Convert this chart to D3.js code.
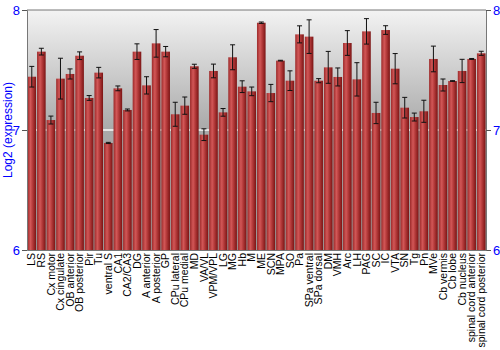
<!DOCTYPE html>
<meta charset="utf-8">
<title>Log2 expression by region</title>
<style type="text/css">
  body {margin:0; background:#fff;}
  text {font-family: "Liberation Sans", Arial, sans-serif;}
</style>
<body>
<script src="https://d3js.org/d3.v7.min.js"></script>
<div id="chart"></div>
<script>
// regions, mean log2 expression and error
var regions = ["LS","RS","Cx motor","Cx cingulate","OB anterior","OB posterior","Pir","Tu","ventral S","CA1",
  "CA2/CA3","DG","A anterior","A posterior","GP","CPu lateral","CPu medial","MD","VA/VL","VPM/VPL",
  "LG","MG","Hb","M","ME","SCN","MPA","SO","Pa","SPa ventral",
  "SPa dorsal","DM","VMH","Arc","LH","PAG","SC","IC","VTA","SN",
  "Tg","Pn","MVe","Cb vermis","Cb lobe","Cb nucleus","spinal cord anterior","spinal cord posterior"];
var values = [7.444,7.653,7.083,7.428,7.467,7.619,7.267,7.478,6.892,7.347,
  7.167,7.653,7.372,7.722,7.653,7.131,7.203,7.531,6.961,7.492,
  7.147,7.606,7.361,7.322,7.894,7.308,7.578,7.411,7.797,7.778,
  7.411,7.522,7.442,7.725,7.422,7.822,7.142,7.833,7.511,7.186,
  7.108,7.156,7.592,7.375,7.408,7.492,7.592,7.639];
var errors = [0.086,0.028,0.033,0.17,0.042,0.032,0.02,0.044,0.005,0.02,
  0.008,0.065,0.072,0.115,0.043,0.1,0.072,0.017,0.049,0.057,
  0.032,0.104,0.049,0.036,0.006,0.072,0.003,0.082,0.071,0.14,
  0.017,0.133,0.075,0.103,0.139,0.106,0.089,0.036,0.126,0.086,
  0.033,0.092,0.107,0.05,0.003,0.097,0.004,0.017];
var yTicks = [6, 7, 8];

var data = regions.map(function(r, i) { return {region: r, value: values[i], err: errors[i]}; });

var margin = {top: 10, right: 14, bottom: 100, left: 27},
    width = 500 - margin.left - margin.right,
    height = 350 - margin.top - margin.bottom;

var svg = d3.select("#chart").append("svg")
    .attr("width", 500).attr("height", 350);

var defs = svg.append("defs");
var bg = defs.append("linearGradient").attr("id", "bg")
    .attr("x1", 0).attr("y1", 0).attr("x2", 0).attr("y2", 1);
bg.append("stop").attr("offset", "0%").attr("stop-color", "#f3f3f3");
bg.append("stop").attr("offset", "50%").attr("stop-color", "#a9a9a9");
bg.append("stop").attr("offset", "100%").attr("stop-color", "#9a9a9a");

var barGrad = defs.append("linearGradient").attr("id", "bar")
    .attr("x1", 0).attr("y1", 0).attr("x2", 1).attr("y2", 0);
barGrad.append("stop").attr("offset", "0%").attr("stop-color", "#9c2a2a");
barGrad.append("stop").attr("offset", "35%").attr("stop-color", "#d25757");
barGrad.append("stop").attr("offset", "60%").attr("stop-color", "#b43a3a");
barGrad.append("stop").attr("offset", "100%").attr("stop-color", "#7a1414");

var g = svg.append("g")
    .attr("transform", "translate(" + margin.left + "," + margin.top + ")");

var x = d3.scaleBand()
    .domain(regions)
    .range([0, width])
    .paddingInner(0.1)
    .paddingOuter(0.05);

var y = d3.scaleLinear()
    .domain([6, 8])
    .range([height, 0]);

// plot background
g.append("rect")
    .attr("width", width).attr("height", height)
    .attr("fill", "url(#bg)");

// grid line at 7
g.append("line")
    .attr("x1", 0).attr("x2", width)
    .attr("y1", y(7)).attr("y2", y(7))
    .attr("stroke", "#fafafa").attr("stroke-width", 1.5);

// bars
g.selectAll("rect.bar")
  .data(data)
  .enter().append("rect")
    .attr("class", "bar")
    .attr("x", function(d) { return x(d.region); })
    .attr("y", function(d) { return y(d.value); })
    .attr("width", x.bandwidth())
    .attr("height", function(d) { return height - y(d.value); })
    .attr("fill", "url(#bar)");

// error bars
var eb = g.selectAll("g.err")
  .data(data)
  .enter().append("g")
    .attr("class", "err")
    .attr("stroke", "#111")
    .attr("stroke-width", 1);
var cx = function(d) { return x(d.region) + x.bandwidth() / 2; };
eb.append("line")
    .attr("x1", cx).attr("x2", cx)
    .attr("y1", function(d) { return y(d.value + d.err); })
    .attr("y2", function(d) { return y(d.value - d.err); });
eb.append("line")
    .attr("x1", function(d) { return cx(d) - 2.5; }).attr("x2", function(d) { return cx(d) + 2.5; })
    .attr("y1", function(d) { return y(d.value + d.err); })
    .attr("y2", function(d) { return y(d.value + d.err); });
eb.append("line")
    .attr("x1", function(d) { return cx(d) - 2.5; }).attr("x2", function(d) { return cx(d) + 2.5; })
    .attr("y1", function(d) { return y(d.value - d.err); })
    .attr("y2", function(d) { return y(d.value - d.err); });

// frame: top line
g.append("line")
    .attr("x1", 0).attr("x2", width).attr("y1", 0).attr("y2", 0)
    .attr("stroke", "#777");

// axes
var yLeft = g.append("g")
    .call(d3.axisLeft(y).tickValues(yTicks).tickFormat(d3.format("d")).tickSize(5).tickPadding(2));
var yRight = g.append("g")
    .attr("transform", "translate(" + width + ",0)")
    .call(d3.axisRight(y).tickValues(yTicks).tickFormat(d3.format("d")).tickSize(5).tickPadding(2));
[yLeft, yRight].forEach(function(a) {
  a.select(".domain").attr("stroke", "#777");
  a.selectAll(".tick line").attr("stroke", "#555");
  a.selectAll(".tick text").attr("fill", "#0000ff").style("font-size", "13px");
});

var xAxis = g.append("g")
    .attr("transform", "translate(0," + height + ")")
    .call(d3.axisBottom(x).tickSize(0).tickPadding(0));
xAxis.select(".domain").attr("stroke", "#777");
xAxis.selectAll(".tick text")
    .attr("transform", "rotate(-90)")
    .attr("x", -3).attr("y", 0).attr("dy", "0.35em")
    .style("text-anchor", "end")
    .style("font-size", "10.5px")
    .attr("fill", "#000");

// y title
svg.append("text")
    .attr("transform", "translate(12," + (margin.top + height / 2) + ") rotate(-90)")
    .style("text-anchor", "middle")
    .style("font-size", "12px")
    .attr("fill", "#0000ff")
    .text("Log2 (expression)");
</script>
</body>
